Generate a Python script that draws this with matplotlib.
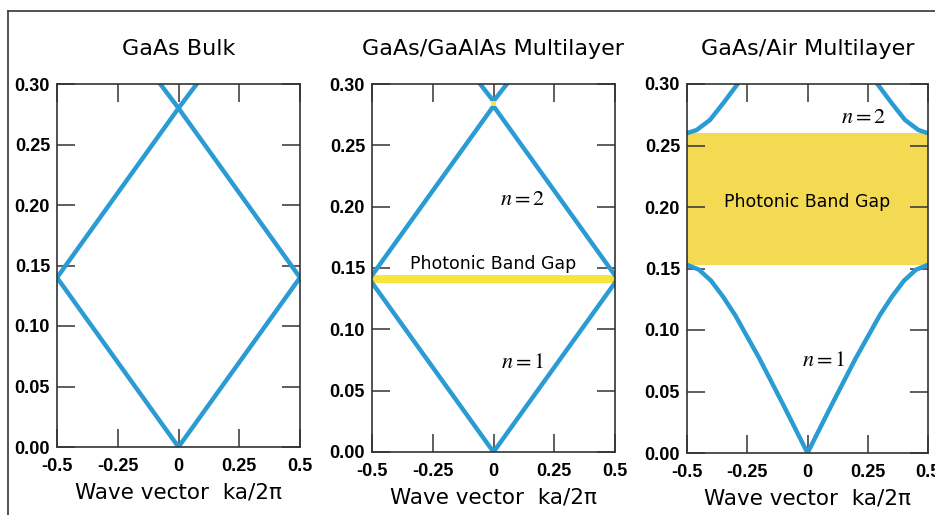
import matplotlib
matplotlib.use("Agg")
import matplotlib.pyplot as plt
from matplotlib.lines import Line2D

plt.rcParams['mathtext.fontset'] = 'stix'

# --- datos ---
k_ticks = [-0.5, -0.25, 0, 0.25, 0.5]
k_labels = ["-0.5", "-0.25", "0", "0.25", "0.5"]
w_ticks = [0.00, 0.05, 0.10, 0.15, 0.20, 0.25, 0.30]
w_labels = ["0.00", "0.05", "0.10", "0.15", "0.20", "0.25", "0.30"]
titles = ["GaAs Bulk", "GaAs/GaAlAs Multilayer", "GaAs/Air Multilayer"]

# GaAs bulk (bandas plegadas)
bulk_k1 = [-0.5, 0, 0.5]
bulk_w1 = [0.14, 0.0, 0.14]
bulk_k2 = [-0.5, 0, 0.5]
bulk_w2 = [0.14, 0.28, 0.14]
bulk_k3 = [-0.075, 0, 0.075]
bulk_w3 = [0.30, 0.28, 0.30]

# GaAs/GaAlAs
ml_k1 = [-0.5, 0, 0.5]
ml_w1 = [0.138, 0.0, 0.138]
ml_k2 = [-0.5, 0, 0.5]
ml_w2 = [0.144, 0.282, 0.144]
ml_k3 = [-0.055, 0, 0.055]
ml_w3 = [0.30, 0.286, 0.30]
ml_gap1 = (0.138, 0.144)
ml_gap2 = (0.282, 0.286)

# GaAs/Air
air_k1 = [-0.5, -0.45, -0.4, -0.35, -0.3, -0.2, -0.1, 0, 0.1, 0.2, 0.3, 0.35, 0.4, 0.45, 0.5]
air_w1 = [0.153, 0.149, 0.140, 0.127, 0.112, 0.077, 0.039, 0.0,
          0.039, 0.077, 0.112, 0.127, 0.140, 0.149, 0.153]
air_k2l = [-0.5, -0.46, -0.405, -0.35, -0.29]
air_w2l = [0.260, 0.2626, 0.2707, 0.2843, 0.300]
air_k2r = [0.5, 0.46, 0.405, 0.35, 0.29]
air_w2r = [0.260, 0.2626, 0.2707, 0.2843, 0.300]
air_gap = (0.153, 0.260)

blue = '#2b9bd3'
yellow = '#f4da52'
yellow2 = '#f7e43c'
spine_c = '#333333'

W, H = 935, 515
fig = plt.figure(figsize=(W / 100, H / 100), dpi=100)

# marco exterior de la figura
fig.add_artist(Line2D([8 / W, 8 / W], [0, 1 - 11 / H], color='#444444', lw=1.3))
fig.add_artist(Line2D([8 / W, 1], [1 - 11 / H, 1 - 11 / H], color='#444444', lw=1.3))

# posiciones de los ejes en pixeles (izq, der, arriba, abajo)
boxes = [(57, 300, 84, 447), (372, 615, 84, 452), (687, 928, 84, 453)]
axes = []
for (l, r, t, b) in boxes:
    ax = fig.add_axes([l / W, 1 - b / H, (r - l) / W, (b - t) / H])
    axes.append(ax)

tick_font = dict(family=['Liberation Sans', 'DejaVu Sans'], weight='bold', size=13)
for i, ax in enumerate(axes):
    ax.set_xlim(-0.5, 0.5)
    ax.set_ylim(0, 0.30)
    ax.set_xticks(k_ticks)
    ax.set_xticklabels(k_labels, fontdict=tick_font)
    ax.set_yticks(w_ticks)
    ax.set_yticklabels(w_labels, fontdict=tick_font)
    ax.tick_params(direction='in', length=13, width=1.1, color=spine_c,
                   top=True, right=True)
    ax.tick_params(axis='x', pad=8)
    ax.tick_params(axis='y', pad=5)
    for s in ax.spines.values():
        s.set_color(spine_c)
        s.set_linewidth(1.2)
    ax.set_title(titles[i], fontsize=16, family='DejaVu Sans', pad=21)
    ax.set_xlabel("Wave vector  ka/2\u03c0", fontsize=15.5, family='DejaVu Sans', labelpad=5)

# panel 1
ax = axes[0]
for kk, ww in [(bulk_k1, bulk_w1), (bulk_k2, bulk_w2), (bulk_k3, bulk_w3)]:
    ax.plot(kk, ww, color=blue, lw=3.2)

# panel 2
ax = axes[1]
ax.axhspan(ml_gap1[0], ml_gap1[1], color=yellow2, lw=0, zorder=1)
ax.fill_between([-0.012, 0.012], ml_gap2[0], ml_gap2[1], color=yellow2, lw=0, zorder=3)
for kk, ww in [(ml_k1, ml_w1), (ml_k2, ml_w2), (ml_k3, ml_w3)]:
    ax.plot(kk, ww, color=blue, lw=3.2, zorder=2)
ax.text(0, 0.153, "Photonic Band Gap", ha='center', va='center', fontsize=12.5,
        family='DejaVu Sans')
ax.text(0.12, 0.206, r"$n = 2$", ha='center', va='center', fontsize=16)
ax.text(0.12, 0.073, r"$n = 1$", ha='center', va='center', fontsize=16)

# panel 3
ax = axes[2]
ax.axhspan(air_gap[0], air_gap[1], color=yellow, lw=0, zorder=1)
for kk, ww in [(air_k1, air_w1), (air_k2l, air_w2l), (air_k2r, air_w2r)]:
    ax.plot(kk, ww, color=blue, lw=3.2, zorder=2)
ax.text(0, 0.204, "Photonic Band Gap", ha='center', va='center', fontsize=12.5,
        family='DejaVu Sans')
ax.text(0.235, 0.273, r"$n = 2$", ha='center', va='center', fontsize=16)
ax.text(0.068, 0.076, r"$n = 1$", ha='center', va='center', fontsize=16)

fig.savefig("out.png", dpi=100)
